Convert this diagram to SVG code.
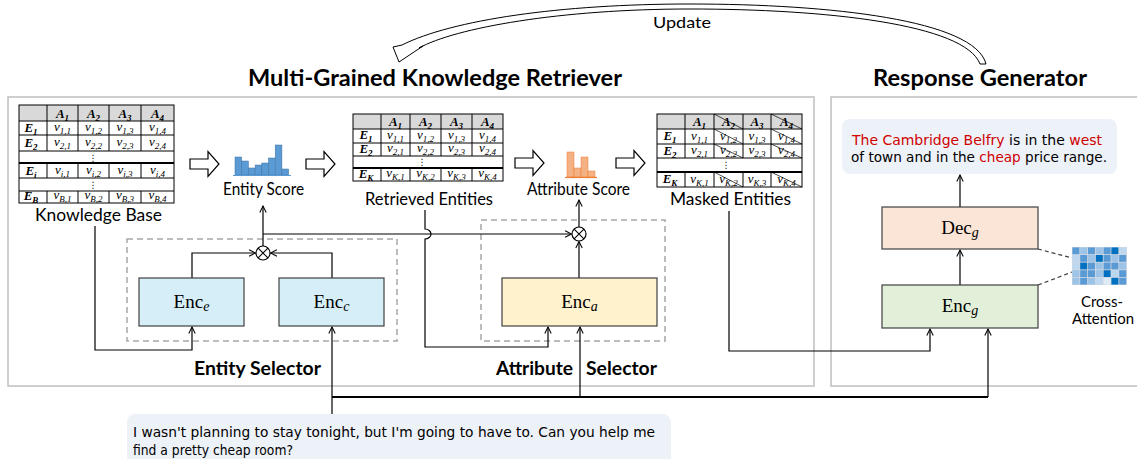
<svg xmlns="http://www.w3.org/2000/svg" xmlns:xlink="http://www.w3.org/1999/xlink" width="1137" height="459" viewBox="0 0 1137 459">
  <style>
    .lbl { font-family: Lato, 'Liberation Sans', sans-serif; fill: #000; }
    .bold { font-weight: bold; }
    .m { font-family: 'Liberation Serif', 'DejaVu Serif', serif; fill: #000; }
    .hdr { font-weight: bold; font-style: italic; font-size: 13px; }
    .cell { font-style: italic; font-size: 13px; }
    .dots { font-family: 'DejaVu Sans', sans-serif; font-size: 9px; }
    .tb { fill: none; stroke: #000; stroke-width: 1; }
    .thick { stroke: #000; stroke-width: 2; }
    .hd { fill: #D9D9D9; }
    .strike { stroke: #000; stroke-width: 0.7; }
    .conn { fill: none; stroke: #000; stroke-width: 1.2; }
    .bus { fill: none; stroke: #000; stroke-width: 2.2; }
    .panel { fill: none; stroke: #BFBFBF; stroke-width: 1.5; }
    .dash { fill: none; stroke: #A6A6A6; stroke-width: 1.5; stroke-dasharray: 6 4; }
    .box { stroke: #404040; stroke-width: 1.2; }
    .blk { fill: #fff; stroke: #000; stroke-width: 1.2; }
    .chat { font-family: 'DejaVu Sans', 'Liberation Sans', sans-serif; fill: #000; }
    .red { fill: #D00000; }
    .bub { fill: #EDF1F8; }
    .ot { fill: #fff; stroke: #000; stroke-width: 1.2; }
    .bar-b { fill: #5B9BD5; stroke: #41719C; stroke-width: 0.5; }
    .bar-o { fill: #F4B183; stroke: #ED7D31; stroke-width: 0.5; }
  </style>
  <defs>
    <marker id="arr" viewBox="0 0 10 10" refX="9" refY="5" markerWidth="8" markerHeight="8" markerUnits="userSpaceOnUse" orient="auto">
      <path d="M1,1 L9,5 L1,9" fill="none" stroke="#000" stroke-width="1.3"/>
    </marker>
    <path id="blk" d="M0,-5 H18 V-12.5 L29,0 L18,12.5 V5 H0 Z"/>
    <g id="otimes">
      <circle r="7" class="ot"/>
      <path d="M-4.9,-4.9 L4.9,4.9 M4.9,-4.9 L-4.9,4.9" stroke="#000" stroke-width="1.1"/>
    </g>
  </defs>

  <!-- update loop arrow -->
  <g id="update">
    <path d="M986,64 C975,20 830,4 690,4 C560,4 452,20 402,45 L393,47 L399,62 L423,46 L419,48 C455,28 560,9 690,9 C825,9 965,24 980,64 Z" fill="#fff" stroke="#000" stroke-width="1"/>
    <text class="lbl" x="653" y="28" font-size="16" textLength="58" lengthAdjust="spacingAndGlyphs">Update</text>
  </g>

  <!-- titles -->
  <text class="lbl bold" x="248" y="86" font-size="22" textLength="374" lengthAdjust="spacingAndGlyphs">Multi-Grained Knowledge Retriever</text>
  <text class="lbl bold" x="873" y="86" font-size="22" textLength="214" lengthAdjust="spacingAndGlyphs">Response Generator</text>

  <!-- panels -->
  <rect class="panel" x="8" y="97" width="806" height="289"/>
  <rect class="panel" x="831" y="97" width="320" height="289"/>

  <!-- selector frames -->
  <rect class="dash" x="127" y="239" width="270" height="102"/>
  <rect class="dash" x="481" y="220" width="184" height="121"/>

  <!-- Knowledge base table -->
  <g id="knowledge-base">
    <rect class="hd" x="19" y="105" width="155" height="16"/>
    <rect class="tb" x="19" y="105" width="155" height="98"/>
    <path class="tb" d="M19,121 H174 M19,135 H174 M19,151 H174 M19,178 H174 M19,191 H174"/>
    <path class="thick" d="M19,163 H174"/>
    <path class="tb" d="M47,105 V151 M78,105 V151 M109,105 V151 M141,105 V151 M47,163 V178 M78,163 V178 M109,163 V178 M141,163 V178 M47,191 V203 M78,191 V203 M109,191 V203 M141,191 V203"/>
    <g class="m" text-anchor="middle">
      <text class="hdr" x="62.5" y="117.5">A<tspan font-size="9" dy="3">1</tspan></text>
      <text class="hdr" x="93.5" y="117.5">A<tspan font-size="9" dy="3">2</tspan></text>
      <text class="hdr" x="125" y="117.5">A<tspan font-size="9" dy="3">3</tspan></text>
      <text class="hdr" x="157.5" y="117.5">A<tspan font-size="9" dy="3">4</tspan></text>
      <text class="hdr" x="31" y="132">E<tspan font-size="9" dy="3">1</tspan></text>
      <text class="hdr" x="31" y="147">E<tspan font-size="9" dy="3">2</tspan></text>
      <text class="hdr" x="31" y="174.5">E<tspan font-size="9" dy="3">i</tspan></text>
      <text class="hdr" x="31" y="200">E<tspan font-size="9" dy="3">B</tspan></text>
      <text class="cell" x="62.5" y="131">v<tspan font-size="9" dy="3">1,1</tspan></text>
      <text class="cell" x="93.5" y="131">v<tspan font-size="9" dy="3">1,2</tspan></text>
      <text class="cell" x="125" y="131">v<tspan font-size="9" dy="3">1,3</tspan></text>
      <text class="cell" x="157.5" y="131">v<tspan font-size="9" dy="3">1,4</tspan></text>
      <text class="cell" x="62.5" y="146">v<tspan font-size="9" dy="3">2,1</tspan></text>
      <text class="cell" x="93.5" y="146">v<tspan font-size="9" dy="3">2,2</tspan></text>
      <text class="cell" x="125" y="146">v<tspan font-size="9" dy="3">2,3</tspan></text>
      <text class="cell" x="157.5" y="146">v<tspan font-size="9" dy="3">2,4</tspan></text>
      <text class="cell" x="62.5" y="173.5">v<tspan font-size="9" dy="3">i,1</tspan></text>
      <text class="cell" x="93.5" y="173.5">v<tspan font-size="9" dy="3">i,2</tspan></text>
      <text class="cell" x="125" y="173.5">v<tspan font-size="9" dy="3">i,3</tspan></text>
      <text class="cell" x="157.5" y="173.5">v<tspan font-size="9" dy="3">i,4</tspan></text>
      <text class="cell" x="62.5" y="199">v<tspan font-size="9" dy="3">B,1</tspan></text>
      <text class="cell" x="93.5" y="199">v<tspan font-size="9" dy="3">B,2</tspan></text>
      <text class="cell" x="125" y="199">v<tspan font-size="9" dy="3">B,3</tspan></text>
      <text class="cell" x="157.5" y="199">v<tspan font-size="9" dy="3">B,4</tspan></text>
    </g>
    <text class="dots" x="93" y="160.5" text-anchor="middle">⋮</text>
    <text class="dots" x="93" y="188" text-anchor="middle">⋮</text>
    <text class="lbl" x="35" y="221" font-size="17" textLength="127" lengthAdjust="spacingAndGlyphs">Knowledge Base</text>
  </g>

  <!-- block arrows between stages -->
  <use href="#blk" xlink:href="#blk" class="blk" x="190" y="164"/>
  <use href="#blk" xlink:href="#blk" class="blk" x="306" y="164"/>
  <use href="#blk" xlink:href="#blk" class="blk" x="515" y="163"/>
  <use href="#blk" xlink:href="#blk" class="blk" x="616" y="163"/>

  <!-- entity score histogram -->
  <g id="entity-score">
    <rect class="bar-b" x="235" y="157" width="6.7" height="18"/>
    <rect class="bar-b" x="241.7" y="161" width="6.7" height="14"/>
    <rect class="bar-b" x="248.4" y="168" width="6.7" height="7"/>
    <rect class="bar-b" x="255.1" y="165" width="6.7" height="10"/>
    <rect class="bar-b" x="261.8" y="163" width="6.7" height="12"/>
    <rect class="bar-b" x="268.5" y="158" width="6.7" height="17"/>
    <rect class="bar-b" x="275.2" y="145" width="6.7" height="30"/>
    <rect class="bar-b" x="281.9" y="169" width="6.7" height="6"/>
    <path d="M233,175.5 H291" stroke="#5B9BD5" stroke-width="1.2"/>
    <text class="lbl" x="223" y="195" font-size="16.5" textLength="81" lengthAdjust="spacingAndGlyphs">Entity Score</text>
  </g>

  <!-- retrieved entities table -->
  <g id="retrieved-entities">
    <rect class="hd" x="353" y="114" width="150" height="15"/>
    <rect class="tb" x="353" y="114" width="150" height="67"/>
    <path class="tb" d="M353,129 H503 M353,143 H503 M353,156 H503"/>
    <path class="thick" d="M353,168 H503"/>
    <path class="tb" d="M381,114 V156 M410,114 V156 M441,114 V156 M472,114 V156 M381,168 V181 M410,168 V181 M441,168 V181 M472,168 V181"/>
    <g class="m" text-anchor="middle">
      <text class="hdr" x="395.5" y="125.5">A<tspan font-size="9" dy="3">1</tspan></text>
      <text class="hdr" x="425.5" y="125.5">A<tspan font-size="9" dy="3">2</tspan></text>
      <text class="hdr" x="456.5" y="125.5">A<tspan font-size="9" dy="3">3</tspan></text>
      <text class="hdr" x="487.5" y="125.5">A<tspan font-size="9" dy="3">4</tspan></text>
      <text class="hdr" x="366" y="139">E<tspan font-size="9" dy="3">1</tspan></text>
      <text class="hdr" x="366" y="152.5">E<tspan font-size="9" dy="3">2</tspan></text>
      <text class="hdr" x="366" y="177.5">E<tspan font-size="9" dy="3">K</tspan></text>
      <text class="cell" x="395.5" y="138.5">v<tspan font-size="9" dy="3">1,1</tspan></text>
      <text class="cell" x="425.5" y="138.5">v<tspan font-size="9" dy="3">1,2</tspan></text>
      <text class="cell" x="456.5" y="138.5">v<tspan font-size="9" dy="3">1,3</tspan></text>
      <text class="cell" x="487.5" y="138.5">v<tspan font-size="9" dy="3">1,4</tspan></text>
      <text class="cell" x="395.5" y="152">v<tspan font-size="9" dy="3">2,1</tspan></text>
      <text class="cell" x="425.5" y="152">v<tspan font-size="9" dy="3">2,2</tspan></text>
      <text class="cell" x="456.5" y="152">v<tspan font-size="9" dy="3">2,3</tspan></text>
      <text class="cell" x="487.5" y="152">v<tspan font-size="9" dy="3">2,4</tspan></text>
      <text class="cell" x="395.5" y="177">v<tspan font-size="9" dy="3">K,1</tspan></text>
      <text class="cell" x="425.5" y="177">v<tspan font-size="9" dy="3">K,2</tspan></text>
      <text class="cell" x="456.5" y="177">v<tspan font-size="9" dy="3">K,3</tspan></text>
      <text class="cell" x="487.5" y="177">v<tspan font-size="9" dy="3">K,4</tspan></text>
    </g>
    <text class="dots" x="422" y="165" text-anchor="middle">⋮</text>
    <text class="lbl" x="365" y="205" font-size="18" textLength="128" lengthAdjust="spacingAndGlyphs">Retrieved Entities</text>
  </g>

  <!-- attribute score histogram -->
  <g id="attribute-score">
    <rect class="bar-o" x="567" y="152" width="7" height="25"/>
    <rect class="bar-o" x="574" y="168" width="7" height="9"/>
    <rect class="bar-o" x="581" y="157" width="7" height="20"/>
    <rect class="bar-o" x="588" y="171" width="7" height="6"/>
    <path d="M565,177.5 H597" stroke="#ED7D31" stroke-width="1.2"/>
    <text class="lbl" x="527" y="195" font-size="16.5" textLength="103" lengthAdjust="spacingAndGlyphs">Attribute Score</text>
  </g>

  <!-- masked entities table -->
  <g id="masked-entities">
    <rect class="hd" x="657" y="114" width="145" height="15"/>
    <rect class="tb" x="657" y="114" width="145" height="73"/>
    <path class="tb" d="M657,129 H802 M657,144 H802 M657,158 H802"/>
    <path class="thick" d="M657,172 H802"/>
    <path class="tb" d="M685,114 V158 M714,114 V158 M743,114 V158 M771,114 V158 M685,172 V187 M714,172 V187 M743,172 V187 M771,172 V187"/>
    <path class="strike" d="M714,114 L743,129 M714,129 L743,144 M714,144 L743,158 M714,172 L743,187 M771,114 L802,129 M771,129 L802,144 M771,144 L802,158 M771,172 L802,187"/>
    <g class="m" text-anchor="middle">
      <text class="hdr" x="699.5" y="125.5">A<tspan font-size="9" dy="3">1</tspan></text>
      <text class="hdr" x="728.5" y="125.5">A<tspan font-size="9" dy="3">2</tspan></text>
      <text class="hdr" x="757" y="125.5">A<tspan font-size="9" dy="3">3</tspan></text>
      <text class="hdr" x="786.5" y="125.5">A<tspan font-size="9" dy="3">4</tspan></text>
      <text class="hdr" x="670" y="140">E<tspan font-size="9" dy="3">1</tspan></text>
      <text class="hdr" x="670" y="154.5">E<tspan font-size="9" dy="3">2</tspan></text>
      <text class="hdr" x="670" y="183">E<tspan font-size="9" dy="3">K</tspan></text>
      <text class="cell" x="699.5" y="139.5">v<tspan font-size="9" dy="3">1,1</tspan></text>
      <text class="cell" x="728.5" y="139.5">v<tspan font-size="9" dy="3">1,2</tspan></text>
      <text class="cell" x="757" y="139.5">v<tspan font-size="9" dy="3">1,3</tspan></text>
      <text class="cell" x="786.5" y="139.5">v<tspan font-size="9" dy="3">1,4</tspan></text>
      <text class="cell" x="699.5" y="154">v<tspan font-size="9" dy="3">2,1</tspan></text>
      <text class="cell" x="728.5" y="154">v<tspan font-size="9" dy="3">2,2</tspan></text>
      <text class="cell" x="757" y="154">v<tspan font-size="9" dy="3">2,3</tspan></text>
      <text class="cell" x="786.5" y="154">v<tspan font-size="9" dy="3">2,4</tspan></text>
      <text class="cell" x="699.5" y="182.5">v<tspan font-size="9" dy="3">K,1</tspan></text>
      <text class="cell" x="728.5" y="182.5">v<tspan font-size="9" dy="3">K,2</tspan></text>
      <text class="cell" x="757" y="182.5">v<tspan font-size="9" dy="3">K,3</tspan></text>
      <text class="cell" x="786.5" y="182.5">v<tspan font-size="9" dy="3">K,4</tspan></text>
    </g>
    <text class="dots" x="726" y="168" text-anchor="middle">⋮</text>
    <text class="lbl" x="670" y="205" font-size="18" textLength="121" lengthAdjust="spacingAndGlyphs">Masked Entities</text>
  </g>

  <!-- connectors -->
  <g id="connectors">
    <path class="conn" d="M95,226 V350 H192 V327" marker-end="url(#arr)"/>
    <path class="conn" d="M192,278 V253 H255.5" marker-end="url(#arr)"/>
    <path class="conn" d="M332,278 V253 H270.5" marker-end="url(#arr)"/>
    <path class="conn" d="M263,246 V206" marker-end="url(#arr)"/>
    <path class="conn" d="M263,234 H571.5" marker-end="url(#arr)"/>
    <path class="conn" d="M425,210 V229 A6,5 0 0 1 425,239 V347 H548 V327" marker-end="url(#arr)"/>
    <path class="conn" d="M579,278 V241.5" marker-end="url(#arr)"/>
    <path class="conn" d="M579,227 V200" marker-end="url(#arr)"/>
    <path class="conn" d="M729,211 V351 H930 V329" marker-end="url(#arr)"/>
    <path class="conn" d="M332,414 V327" marker-end="url(#arr)"/>
    <path class="bus" d="M332,397 H988"/>
    <path class="conn" d="M580,397 V327" marker-end="url(#arr)"/>
    <path class="conn" d="M988,397 V329" marker-end="url(#arr)"/>
    <path class="conn" d="M960,285 V250" marker-end="url(#arr)"/>
    <path class="conn" d="M960,207 V175" marker-end="url(#arr)"/>
    <path d="M1038,249 L1072,258 M1038,285 L1072,272" fill="none" stroke="#404040" stroke-width="1.2" stroke-dasharray="4 3"/>
  </g>

  <!-- fusion points -->
  <use href="#otimes" xlink:href="#otimes" x="263" y="253"/>
  <use href="#otimes" xlink:href="#otimes" x="579" y="234"/>

  <!-- encoders -->
  <g id="enc-e">
    <rect class="box" x="139" y="278" width="105" height="48" fill="#D6EEF8"/>
    <text class="m" x="191.5" y="308" font-size="19" text-anchor="middle">Enc<tspan font-style="italic" font-size="14" dy="3">e</tspan></text>
  </g>
  <g id="enc-c">
    <rect class="box" x="279" y="278" width="105" height="48" fill="#D6EEF8"/>
    <text class="m" x="331.5" y="308" font-size="19" text-anchor="middle">Enc<tspan font-style="italic" font-size="14" dy="3">c</tspan></text>
  </g>
  <g id="enc-a">
    <rect class="box" x="502" y="278" width="155" height="48" fill="#FFF2CC"/>
    <text class="m" x="579.5" y="308" font-size="19" text-anchor="middle">Enc<tspan font-style="italic" font-size="14" dy="3">a</tspan></text>
  </g>
  <g id="dec-g">
    <rect class="box" x="882" y="207" width="156" height="42" fill="#FBE5D6"/>
    <text class="m" x="960" y="234" font-size="19" text-anchor="middle">Dec<tspan font-style="italic" font-size="14" dy="3">g</tspan></text>
  </g>
  <g id="enc-g">
    <rect class="box" x="882" y="285" width="156" height="43" fill="#E2F0D9"/>
    <text class="m" x="960" y="312" font-size="19" text-anchor="middle">Enc<tspan font-style="italic" font-size="14" dy="3">g</tspan></text>
  </g>

  <!-- selector captions -->
  <text class="lbl bold" x="194" y="375" font-size="18" textLength="127" lengthAdjust="spacingAndGlyphs">Entity Selector</text>
  <text class="lbl bold" x="496" y="375" font-size="18" textLength="77" lengthAdjust="spacingAndGlyphs">Attribute</text>
  <text class="lbl bold" x="586" y="375" font-size="18" textLength="71" lengthAdjust="spacingAndGlyphs">Selector</text>

  <!-- cross-attention map -->
  <g id="cross-attention">
    <rect x="1072" y="247" width="55" height="38" fill="#D0D8E4"/>
    <g>
      <rect x="1072.4" y="247.4" width="7" height="6.8" fill="#5B9BD5"/>
      <rect x="1080.2" y="247.4" width="7" height="6.8" fill="#9DC3E6"/>
      <rect x="1088.0" y="247.4" width="7" height="6.8" fill="#5B9BD5"/>
      <rect x="1095.8" y="247.4" width="7" height="6.8" fill="#9DC3E6"/>
      <rect x="1103.6" y="247.4" width="7" height="6.8" fill="#5B9BD5"/>
      <rect x="1111.4" y="247.4" width="7" height="6.8" fill="#0070C0"/>
      <rect x="1119.2" y="247.4" width="7" height="6.8" fill="#BDD7EE"/>

      <rect x="1072.4" y="255.0" width="7" height="6.8" fill="#BDD7EE"/>
      <rect x="1080.2" y="255.0" width="7" height="6.8" fill="#5B9BD5"/>
      <rect x="1088.0" y="255.0" width="7" height="6.8" fill="#9DC3E6"/>
      <rect x="1095.8" y="255.0" width="7" height="6.8" fill="#0070C0"/>
      <rect x="1103.6" y="255.0" width="7" height="6.8" fill="#5B9BD5"/>
      <rect x="1111.4" y="255.0" width="7" height="6.8" fill="#9DC3E6"/>
      <rect x="1119.2" y="255.0" width="7" height="6.8" fill="#5B9BD5"/>

      <rect x="1072.4" y="262.6" width="7" height="6.8" fill="#BDD7EE"/>
      <rect x="1080.2" y="262.6" width="7" height="6.8" fill="#0070C0"/>
      <rect x="1088.0" y="262.6" width="7" height="6.8" fill="#5B9BD5"/>
      <rect x="1095.8" y="262.6" width="7" height="6.8" fill="#9DC3E6"/>
      <rect x="1103.6" y="262.6" width="7" height="6.8" fill="#5B9BD5"/>
      <rect x="1111.4" y="262.6" width="7" height="6.8" fill="#5B9BD5"/>
      <rect x="1119.2" y="262.6" width="7" height="6.8" fill="#9DC3E6"/>

      <rect x="1072.4" y="270.2" width="7" height="6.8" fill="#9DC3E6"/>
      <rect x="1080.2" y="270.2" width="7" height="6.8" fill="#5B9BD5"/>
      <rect x="1088.0" y="270.2" width="7" height="6.8" fill="#5B9BD5"/>
      <rect x="1095.8" y="270.2" width="7" height="6.8" fill="#9DC3E6"/>
      <rect x="1103.6" y="270.2" width="7" height="6.8" fill="#0070C0"/>
      <rect x="1111.4" y="270.2" width="7" height="6.8" fill="#BDD7EE"/>
      <rect x="1119.2" y="270.2" width="7" height="6.8" fill="#5B9BD5"/>

      <rect x="1072.4" y="277.8" width="7" height="6.8" fill="#9DC3E6"/>
      <rect x="1080.2" y="277.8" width="7" height="6.8" fill="#5B9BD5"/>
      <rect x="1088.0" y="277.8" width="7" height="6.8" fill="#9DC3E6"/>
      <rect x="1095.8" y="277.8" width="7" height="6.8" fill="#BDD7EE"/>
      <rect x="1103.6" y="277.8" width="7" height="6.8" fill="#DEEBF7"/>
      <rect x="1111.4" y="277.8" width="7" height="6.8" fill="#0070C0"/>
      <rect x="1119.2" y="277.8" width="7" height="6.8" fill="#5B9BD5"/>
    </g>
    <text class="lbl" x="1081" y="307" font-size="15" textLength="42" lengthAdjust="spacingAndGlyphs">Cross-</text>
    <text class="lbl" x="1072" y="324" font-size="15" textLength="62" lengthAdjust="spacingAndGlyphs">Attention</text>
  </g>

  <!-- generated response -->
  <g id="response">
    <rect class="bub" x="842" y="119" width="275" height="55" rx="8"/>
    <text class="chat" x="852" y="145" font-size="13.5" textLength="250" lengthAdjust="spacingAndGlyphs"><tspan class="red">The Cambridge Belfry</tspan> is in the <tspan class="red">west</tspan></text>
    <text class="chat" x="851" y="162" font-size="13.5" textLength="256" lengthAdjust="spacingAndGlyphs">of town and in the <tspan class="red">cheap</tspan> price range.</text>
  </g>

  <!-- user query -->
  <g id="query">
    <rect class="bub" x="127" y="414" width="544" height="60" rx="8"/>
    <text class="chat" x="133" y="437" font-size="13.5" textLength="522" lengthAdjust="spacingAndGlyphs">I wasn't planning to stay tonight, but I'm going to have to. Can you help me</text>
    <text class="chat" x="133" y="455" font-size="13.5" textLength="160" lengthAdjust="spacingAndGlyphs">find a pretty cheap room?</text>
  </g>
</svg>
